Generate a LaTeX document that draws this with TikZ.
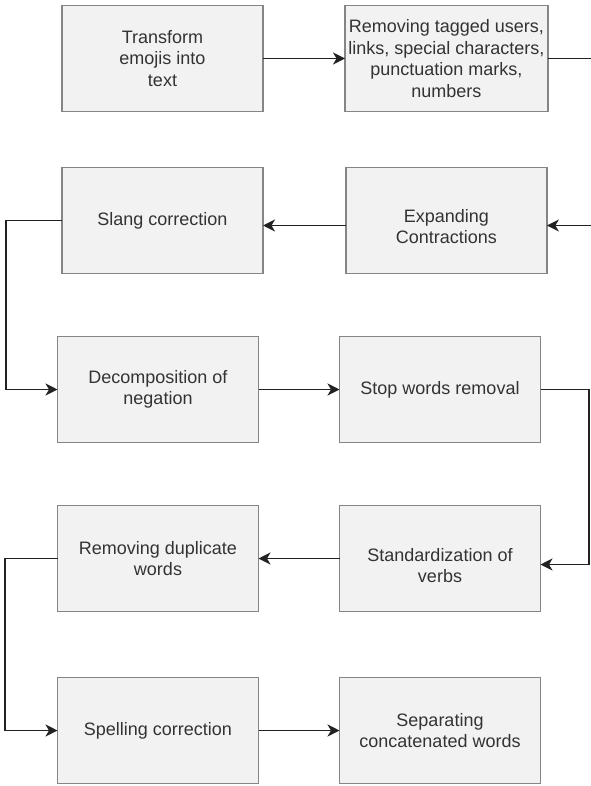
\documentclass[tikz,border=0pt]{standalone}
\usepackage{fontspec}
\setmainfont{Liberation Sans}
\usetikzlibrary{positioning,arrows.meta,calc}
\definecolor{boxfill}{HTML}{F2F2F2}
\definecolor{boxline}{HTML}{858585}
\definecolor{wire}{HTML}{222222}
\tikzset{
    flow/.style = {
        draw = wire,
        line width = 1.8pt,
        -{Stealth[length = 12pt, width = 12pt, inset = 3.5pt]},
        },
}

\begin{document}
\begin{tikzpicture}[
                node distance = 56pt and 82pt,
                StepBlock/.style={draw=boxline, fill=boxfill, line width=1.6pt,
                    minimum width=201pt, minimum height=106pt, outer sep=0pt,
                    align=center, text=black!80,
                    font=\fontsize{18}{21.5}\selectfont},
            ]
            \useasboundingbox (0,0) rectangle (590pt,-786pt);

            % first two rows
            \node [StepBlock] (emoji) at (162.5pt,-58.5pt) {Transform\\emojis into\\text};
            \node [StepBlock,right=82pt of emoji] (cleaning) {Removing tagged users,\\links, special characters,\\punctuation marks,\\numbers};
            \node [StepBlock,below=56pt of cleaning] (contractions) {\rule{0pt}{25pt}Expanding\\Contractions};
            \node [StepBlock,below=56pt of emoji] (slang) {Slang correction};

            % last three rows
            \node [StepBlock,below=63pt of slang,xshift=-4.5pt] (negation) {Decomposition of\\negation};
            \node [StepBlock,right=81pt of negation] (stopwords) {Stop words removal};
            \node [StepBlock,below=63pt of stopwords] (verbs) {\rule{0pt}{27pt}Standardization of\\verbs};
            \node [StepBlock,below=63pt of negation] (duplicates) {Removing duplicate\\words};
            \node [StepBlock,below=66pt of duplicates] (spelling) {Spelling correction};
            \node [StepBlock,right=81pt of spelling] (separating) {Separating\\concatenated words};

            \coordinate (outerright) at (593pt,0);
            \coordinate (innerright) at (589pt,0);
            \coordinate (upperleft) at (6pt,0);
            \coordinate (lowerleft) at (5pt,0);

            \draw[flow] (emoji) -- (cleaning);
            \draw[flow] (cleaning.east) -- (cleaning.east -| outerright) |- ([yshift=-5pt] contractions.east);
            \draw[flow] ([yshift=-5pt] contractions.west) -- ([yshift=-5pt] slang.east);
            \draw[flow] (slang.west) -- (slang.west -| upperleft) |- (negation.west);

            \draw[flow] (negation) -- (stopwords);
            \draw[flow] (stopwords.east) -- (stopwords.east -| innerright) |- ([yshift=-6pt] verbs.east);
            \draw[flow] (verbs) -- (duplicates);
            \draw[flow] (duplicates.west) -- (duplicates.west -| lowerleft) |- (spelling.west);
            \draw[flow] (spelling) -- (separating);
        \end{tikzpicture}
\end{document}
